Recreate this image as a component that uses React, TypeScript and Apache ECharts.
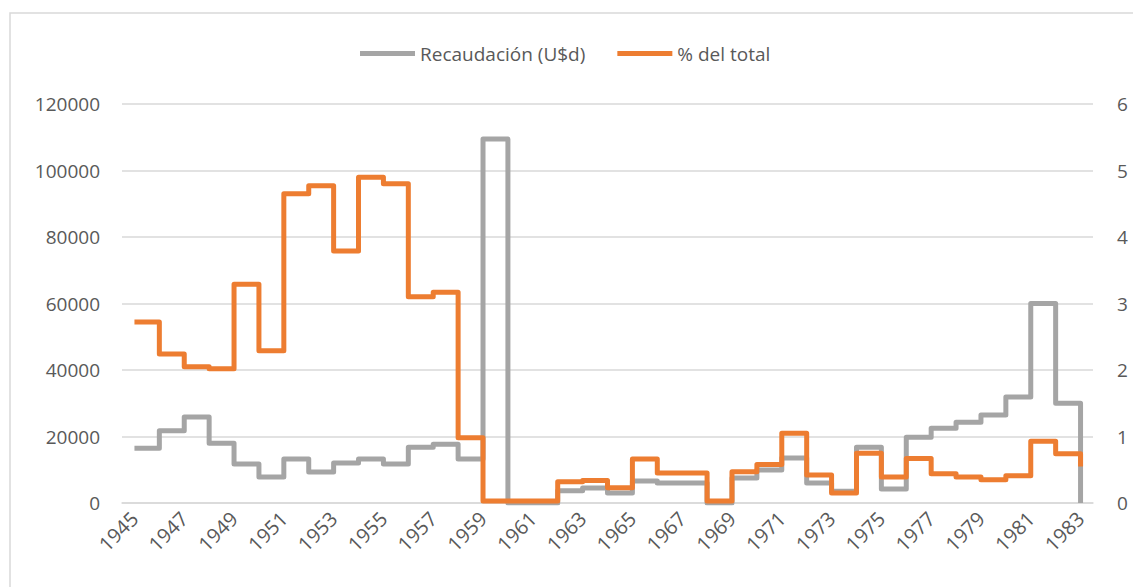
import React, { useEffect, useRef } from "react";
import * as echarts from "echarts";

const years = [
  "1945","1946","1947","1948","1949","1950","1951","1952","1953","1954",
  "1955","1956","1957","1958","1959","1960","1961","1962","1963","1964",
  "1965","1966","1967","1968","1969","1970","1971","1972","1973","1974",
  "1975","1976","1977","1978","1979","1980","1981","1982","1983",
];

const recaudacion = [
  16500, 21700, 25900, 18000, 11700, 7800, 13200, 9300, 12000, 13200,
  11700, 16800, 17700, 13200, 109500, 0, 0, 3700, 4500, 3000,
  6600, 6000, 6000, 0, 7500, 9900, 13500, 6000, 3500, 16800,
  4200, 19800, 22500, 24300, 26500, 31900, 60000, 30000, 0,
];

const porcentaje = [
  2.72, 2.24, 2.05, 2.02, 3.29, 2.29, 4.65, 4.77, 3.79, 4.9,
  4.8, 3.1, 3.17, 0.98, 0.03, 0.03, 0.03, 0.32, 0.34, 0.23,
  0.66, 0.45, 0.45, 0.03, 0.47, 0.58, 1.05, 0.42, 0.15, 0.75,
  0.39, 0.67, 0.44, 0.39, 0.35, 0.41, 0.93, 0.74, 0.55,
];

const leftTicks = [0, 120000, 20000];
const rightTicks = [0, 6, 1];

const FONT = "'Open Sans', 'Noto Sans', sans-serif";
const TEXT = "#595959";
const GRID = "#d9d9d9";

export default function App() {
  const ref = useRef<HTMLDivElement>(null);
  useEffect(() => {
    if (!ref.current) return;
    const chart = echarts.init(ref.current, undefined, { renderer: "svg" });
    chart.setOption({
      animation: false,
      backgroundColor: "#ffffff",
      textStyle: { fontFamily: FONT },
      graphic: [
        {
          type: "rect",
          shape: { x: 10, y: 13, width: 1200, height: 700 },
          style: { fill: "none", stroke: GRID, lineWidth: 1.5 },
          silent: true,
        },
      ],
      legend: {
        top: 39,
        left: 355,
        icon: "rect",
        itemWidth: 55,
        itemHeight: 5,
        itemGap: 32,
        textStyle: { color: TEXT, fontSize: 19, fontFamily: FONT },
        data: ["Recaudación (U$d)", "% del total"],
      },
      grid: { left: 122, right: 40, top: 104, bottom: 84 },
      xAxis: {
        type: "category",
        data: years,
        boundaryGap: true,
        axisLine: { lineStyle: { color: GRID, width: 1.5 } },
        axisTick: { show: false },
        axisLabel: {
          interval: 1,
          rotate: 45,
          margin: 12,
          color: TEXT,
          fontSize: 20,
          fontFamily: FONT,
        },
      },
      yAxis: [
        {
          type: "value",
          min: leftTicks[0],
          max: leftTicks[1],
          interval: leftTicks[2],
          axisLine: { show: false },
          axisTick: { show: false },
          axisLabel: {
            color: TEXT,
            fontSize: 19,
            margin: 22,
            fontFamily: FONT,
            formatter: (v: number) => String(v),
          },
          splitLine: { lineStyle: { color: GRID, width: 1.5 } },
        },
        {
          type: "value",
          min: rightTicks[0],
          max: rightTicks[1],
          interval: rightTicks[2],
          axisLine: { show: false },
          axisTick: { show: false },
          axisLabel: { color: TEXT, fontSize: 19, margin: 24, fontFamily: FONT },
          splitLine: { show: false },
        },
      ],
      series: [
        {
          name: "Recaudación (U$d)",
          type: "line",
          step: "end",
          yAxisIndex: 0,
          data: recaudacion,
          showSymbol: false,
          symbol: "none",
          itemStyle: { color: "#A5A5A5" },
          lineStyle: { color: "#A5A5A5", width: 5, join: "round" },
        },
        {
          name: "% del total",
          type: "line",
          step: "end",
          yAxisIndex: 1,
          data: porcentaje,
          showSymbol: false,
          symbol: "none",
          itemStyle: { color: "#ED7D31" },
          lineStyle: { color: "#ED7D31", width: 5, join: "round" },
        },
      ],
    });
    return () => chart.dispose();
  }, []);
  return (
    <div
      ref={ref}
      style={{ position: "fixed", left: 0, top: 0, width: 1133, height: 587 }}
    />
  );
}
